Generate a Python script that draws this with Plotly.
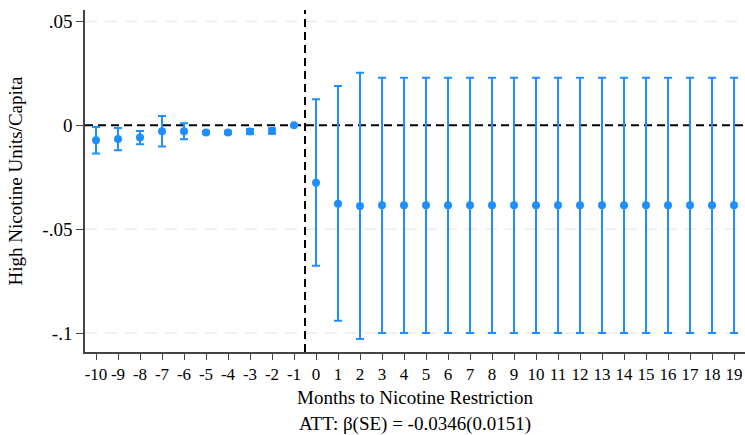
import plotly.graph_objects as go

months = list(range(-10, 20))
coef = [-0.0072, -0.0066, -0.0059, -0.0029, -0.0029, -0.0035, -0.0034, -0.0030, -0.0027, 0.0,
        -0.0277, -0.0377, -0.0388] + [-0.0385] * 17
upper = [-0.0008, -0.0013, -0.0027, 0.0045, 0.0010, -0.0028, -0.0027, -0.0018, -0.0014, 0.0,
         0.0125, 0.0189, 0.0253] + [0.0229] * 17
lower = [-0.0136, -0.0120, -0.0091, -0.0102, -0.0067, -0.0042, -0.0041, -0.0042, -0.0040, 0.0,
         -0.0676, -0.0941, -0.1029] + [-0.0999] * 17
ytick_vals = [0.05, 0, -0.05, -0.1]
ytick_text = [".05", "0", "-.05", "-.1"]
att_text = "ATT: β(SE) = -0.0346(0.0151)"
xtitle = "Months to Nicotine Restriction"
ytitle = "High Nicotine Units/Capita"

blue = "#1E8FFF"
font = "Liberation Serif, Times New Roman, serif"
fs = 19
fsx = 17

W, H = 745, 435
L, R, T, B = 85, 0, 10, 83

fig = go.Figure()

for v in ytick_vals:
    if v != 0:
        fig.add_hline(y=v, line=dict(color="#ebebeb", width=1.5, dash="12px,8px"), layer="below")
fig.add_hline(y=0, line=dict(color="black", width=2, dash="8px,5px"), layer="below")
fig.add_vline(x=-0.5, line=dict(color="black", width=2, dash="8px,5px"), layer="below")

fig.add_trace(go.Scatter(
    x=months, y=coef, mode="markers",
    marker=dict(color=blue, size=8),
    error_y=dict(type="data", symmetric=False,
                 array=[u - c for u, c in zip(upper, coef)],
                 arrayminus=[c - l for c, l in zip(coef, lower)],
                 color=blue, thickness=2, width=4),
    showlegend=False,
))

plot_h = H - T - B
plot_w = W - L - R

fig.update_layout(
    width=W, height=H,
    margin=dict(l=L, r=R, t=T, b=B),
    paper_bgcolor="white", plot_bgcolor="white",
    font=dict(family=font, size=fs, color="black"),
    xaxis=dict(range=[-10.5, 19.5], tickvals=months, ticktext=[str(m) for m in months],
               showgrid=False, zeroline=False, showline=True, linecolor="#444",
               linewidth=1.5, ticks="outside", ticklen=6, tickcolor="#444",
               tickangle=0, tickfont=dict(size=fsx), automargin=False,
               ticklabeloverflow="allow"),
    yaxis=dict(range=[-0.1091, 0.0555], tickvals=ytick_vals, ticktext=ytick_text,
               showgrid=False, zeroline=False, showline=True, linecolor="#444", linewidth=1.5,
               ticks="outside", ticklen=7, tickcolor="#444", tickfont=dict(size=fs),
               automargin=False,
               title=dict(text=ytitle, font=dict(size=fs), standoff=15)),
    annotations=[
        dict(text=xtitle, x=(415 - L) / plot_w, y=(H - B - 397) / plot_h,
             xref="paper", yref="paper", yanchor="middle", showarrow=False,
             font=dict(size=fs)),
        dict(text=att_text, x=(415 - L) / plot_w, y=(H - B - 424) / plot_h,
             xref="paper", yref="paper", yanchor="middle", showarrow=False,
             font=dict(size=fs)),
    ],
)

fig.write_html(
    "out.html",
    config={"displayModeBar": False},
    post_script="document.body.style.margin='0';document.body.style.overflow='hidden';",
)
